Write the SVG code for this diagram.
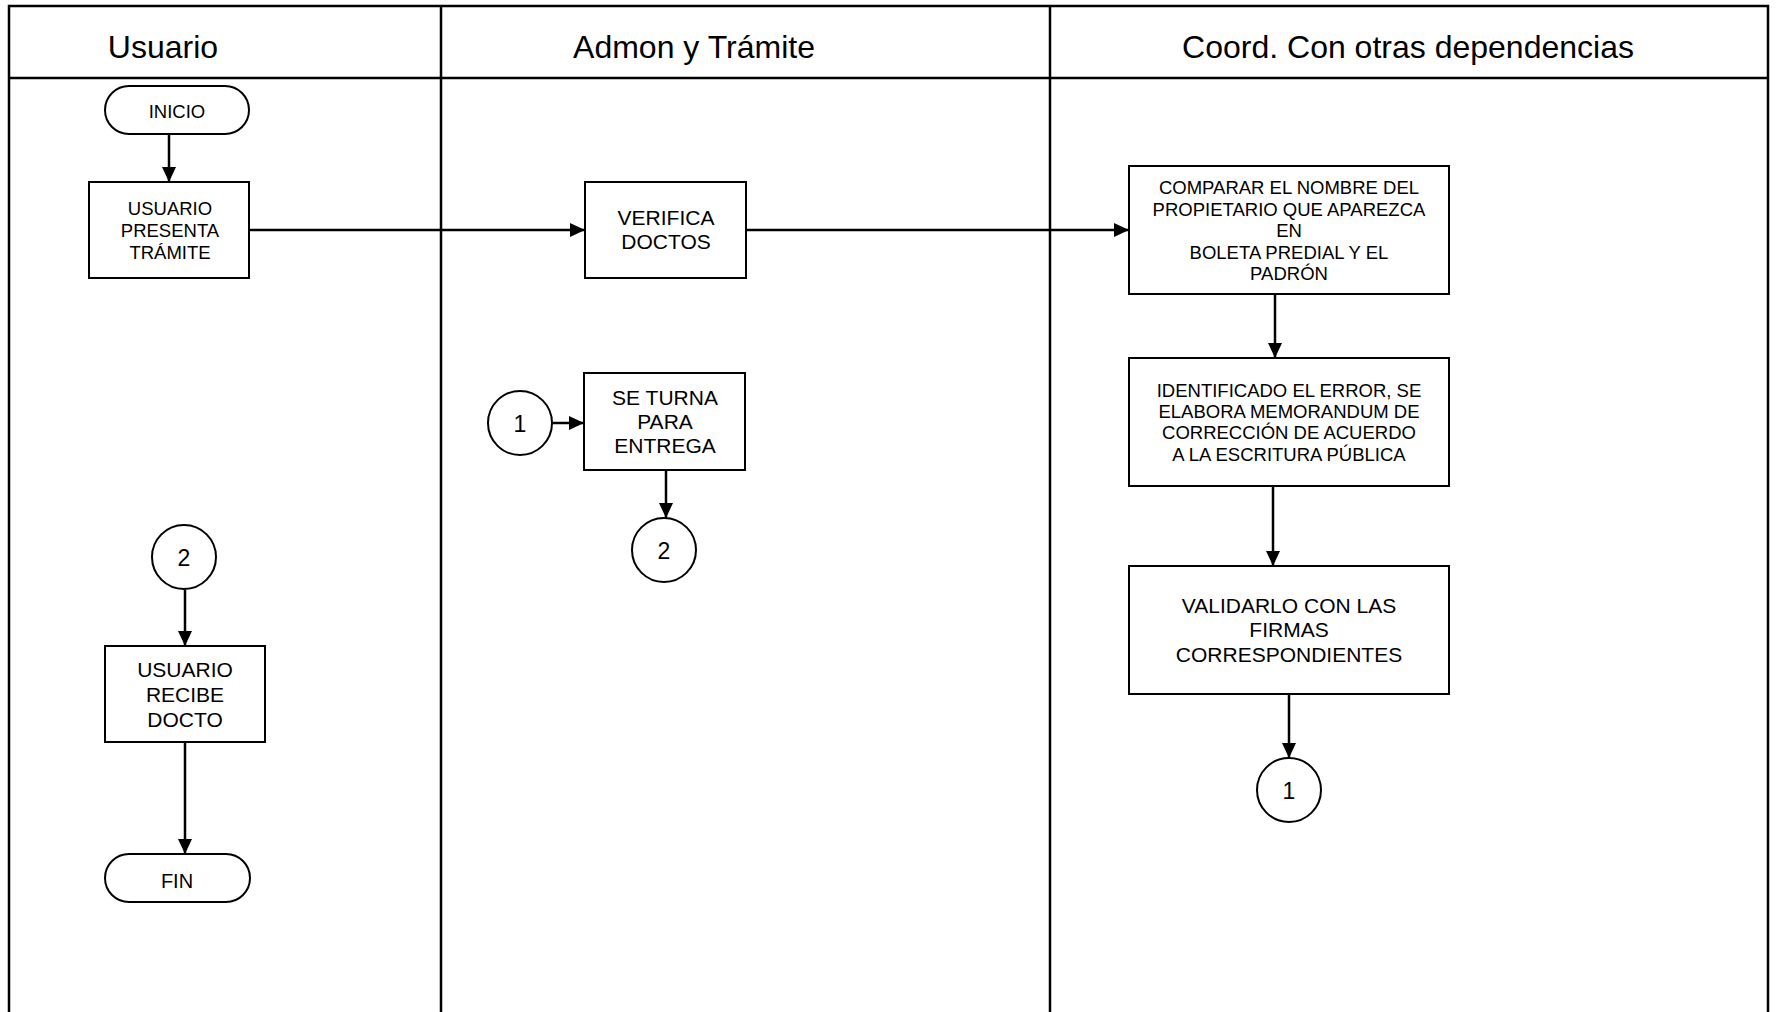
<svg xmlns="http://www.w3.org/2000/svg" width="1777" height="1012" viewBox="0 0 1777 1012">
<style>
.lane{fill:none;stroke:#000;stroke-width:2.5}
.box{fill:#fff;stroke:#000;stroke-width:2}
.conn{fill:none;stroke:#000;stroke-width:2.5;marker-end:url(#arr)}
text{font-family:"Liberation Sans",Arial,sans-serif;fill:#000;text-anchor:middle}
.hd{font-size:32px}
.s18{font-size:18.5px}
.s21{font-size:21px}
.num{font-size:23px}
.s20{font-size:20px}
</style>
<defs>
<marker id="arr" markerUnits="userSpaceOnUse" markerWidth="15" markerHeight="14" refX="15" refY="7" orient="auto">
<path d="M0,0 L15,7 L0,14 z" fill="#000"/>
</marker>
</defs>
<rect width="1777" height="1012" fill="#fff"/>
<g id="lanes">
<path class="lane" d="M9,1020 V6 H1768 V1020"/>
<line class="lane" x1="9" y1="78" x2="1768" y2="78"/>
<line class="lane" x1="441" y1="6" x2="441" y2="1020"/>
<line class="lane" x1="1050" y1="6" x2="1050" y2="1020"/>
<text class="hd" x="163" y="58">Usuario</text>
<text class="hd" x="694" y="58">Admon y Trámite</text>
<text class="hd" x="1408" y="58">Coord. Con otras dependencias</text>
</g>
<g id="connectors">
<line class="conn" x1="169" y1="134" x2="169" y2="182"/>
<line class="conn" x1="249" y1="230" x2="585" y2="230"/>
<line class="conn" x1="746" y1="230" x2="1129" y2="230"/>
<line class="conn" x1="1275" y1="294" x2="1275" y2="358"/>
<line class="conn" x1="1273" y1="486" x2="1273" y2="566"/>
<line class="conn" x1="1289" y1="694" x2="1289" y2="758"/>
<line class="conn" x1="552" y1="423" x2="584" y2="423"/>
<line class="conn" x1="666" y1="470" x2="666" y2="518"/>
<line class="conn" x1="185" y1="590" x2="185" y2="646"/>
<line class="conn" x1="185" y1="742" x2="185" y2="854"/>
</g>
<g id="inicio">
<rect class="box" x="105" y="86" width="144" height="48" rx="24"/>
<text class="s18" x="177" y="118">INICIO</text>
</g>
<g id="usuario-presenta">
<rect class="box" x="89" y="182" width="160" height="96"/>
<text class="s18" x="170" y="215">USUARIO</text>
<text class="s18" x="170" y="237">PRESENTA</text>
<text class="s18" x="170" y="259">TRÁMITE</text>
</g>
<g id="verifica">
<rect class="box" x="585" y="182" width="161" height="96"/>
<text class="s21" x="666" y="225">VERIFICA</text>
<text class="s21" x="666" y="249">DOCTOS</text>
</g>
<g id="comparar">
<rect class="box" x="1129" y="166" width="320" height="128"/>
<text class="s18" x="1289" y="194">COMPARAR EL NOMBRE DEL</text>
<text class="s18" x="1289" y="216">PROPIETARIO QUE APAREZCA</text>
<text class="s18" x="1289" y="237">EN</text>
<text class="s18" x="1289" y="259">BOLETA PREDIAL Y EL</text>
<text class="s18" x="1289" y="280">PADRÓN</text>
</g>
<g id="identificado">
<rect class="box" x="1129" y="358" width="320" height="128"/>
<text class="s18" x="1289" y="397">IDENTIFICADO EL ERROR, SE</text>
<text class="s18" x="1289" y="418">ELABORA MEMORANDUM DE</text>
<text class="s18" x="1289" y="439">CORRECCIÓN DE ACUERDO</text>
<text class="s18" x="1289" y="461">A LA ESCRITURA PÚBLICA</text>
</g>
<g id="validarlo">
<rect class="box" x="1129" y="566" width="320" height="128"/>
<text class="s21" x="1289" y="613">VALIDARLO CON LAS</text>
<text class="s21" x="1289" y="637">FIRMAS</text>
<text class="s21" x="1289" y="662">CORRESPONDIENTES</text>
</g>
<g id="conector-1-coord">
<circle class="box" cx="1289" cy="790" r="32"/>
<text class="num" x="1289" y="799">1</text>
</g>
<g id="conector-1-admon">
<circle class="box" cx="520" cy="423" r="32"/>
<text class="num" x="520" y="432">1</text>
</g>
<g id="se-turna">
<rect class="box" x="584" y="373" width="161" height="97"/>
<text class="s21" x="665" y="405">SE TURNA</text>
<text class="s21" x="665" y="429">PARA</text>
<text class="s21" x="665" y="453">ENTREGA</text>
</g>
<g id="conector-2-admon">
<circle class="box" cx="664" cy="550" r="32"/>
<text class="num" x="664" y="559">2</text>
</g>
<g id="conector-2-usuario">
<circle class="box" cx="184" cy="557" r="32"/>
<text class="num" x="184" y="566">2</text>
</g>
<g id="usuario-recibe">
<rect class="box" x="105" y="646" width="160" height="96"/>
<text class="s21" x="185" y="677">USUARIO</text>
<text class="s21" x="185" y="702">RECIBE</text>
<text class="s21" x="185" y="727">DOCTO</text>
</g>
<g id="fin">
<rect class="box" x="105" y="854" width="145" height="48" rx="24"/>
<text class="s20" x="177" y="888">FIN</text>
</g>
</svg>
